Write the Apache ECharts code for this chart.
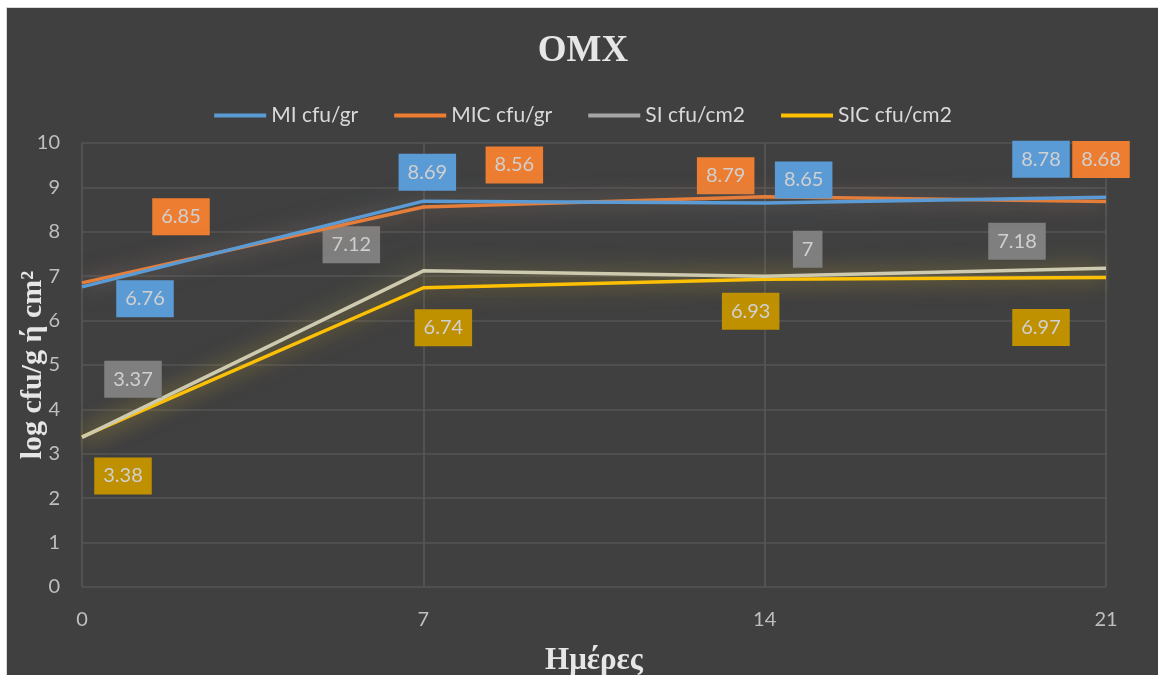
<!DOCTYPE html>
<html>
<head>
<meta charset="utf-8">
<script src="https://cdn.jsdelivr.net/npm/echarts@6/dist/echarts.min.js"></script>
<style>
  body { margin: 0; background: #ffffff; }
  #main {
    position: absolute; left: 6px; top: 7px;
    width: 1152px; height: 668px;
    background: #404040;
    border-left: 1px solid #d9d9d9; border-top: 1px solid #d9d9d9;
  }
</style>
</head>
<body>
<div id="main"></div>
<script>
// ημέρες
var days = [0, 7, 14, 21];
var seriesNames = ["MI cfu/gr", "MIC cfu/gr", "SI cfu/cm2", "SIC cfu/cm2"];
var miValues = [6.76, 8.69, 8.65, 8.78];
var micValues = [6.85, 8.56, 8.79, 8.68];
var siValues = [3.37, 7.12, 7, 7.18];
var sicValues = [3.38, 6.74, 6.93, 6.97];
var yTicks = { min: 0, max: 10, interval: 1 };

// θέσεις ετικετών (όπως τις έβαλε το Excel)
var labelOffsets = [
  [[63, 12], [4, -29], [39, -23], [-65, -38]],
  [[99, -66], [91, -42], [-39, -21], [-5, -42]],
  [[51, -58], [-72, -26], [43, -27], [-89, -27]],
  [[41, 39], [20, 40], [-14, 32], [-65, 50]]
];
var lineColors = ["#5b9bd5", "#ed7d31", "#cdcab0", "#ffc000"];
var legendColors = ["#5b9bd5", "#ed7d31", "#a5a5a5", "#ffc000"];
var boxColors = ["#5b9bd5", "#ed7d31", "#7f7f7f", "#bf9000"];
var glowColors = ["rgba(91,155,213,0.5)", "rgba(237,125,49,0.5)", "rgba(205,195,90,0.55)", "rgba(255,192,0,0.55)"];

function makeSeries(i, values) {
  return {
    name: seriesNames[i],
    type: "line",
    symbol: "circle",
    symbolSize: 0.1,
    z: 10 - i,
    itemStyle: { color: legendColors[i] },
    lineStyle: {
      color: lineColors[i],
      width: 3.5,
      shadowBlur: 22,
      shadowColor: glowColors[i]
    },
    data: values.map(function (v, k) {
      return {
        value: [days[k], v],
        label: { offset: labelOffsets[i][k] }
      };
    }),
    label: {
      show: true,
      position: "inside",
      color: "#d0d0d0",
      fontFamily: "Lato",
      fontSize: 20,
      backgroundColor: boxColors[i],
      padding: [9, 9, 8, 9],
      formatter: function (p) { return p.value[1]; }
    },
    emphasis: { disabled: true }
  };
}

var chart = echarts.init(document.getElementById("main"));
chart.setOption({
  animation: false,
  title: {
    text: "OMX",
    left: "center",
    top: 20,
    textStyle: { color: "#e6e6e6", fontFamily: "Liberation Serif", fontWeight: "bold", fontSize: 37 }
  },
  legend: {
    top: 92,
    left: "center",
    icon: "rect",
    itemWidth: 52,
    itemHeight: 4,
    itemGap: 36,
    textStyle: { color: "#d9d9d9", fontFamily: "Lato", fontSize: 21 },
    data: seriesNames
  },
  grid: { left: 75, right: 53, top: 135, bottom: 89, outerBoundsMode: "none", containLabel: false },
  xAxis: {
    type: "value",
    min: 0,
    max: 21,
    interval: 7,
    name: "Ημέρες",
    nameLocation: "middle",
    nameGap: 58,
    nameMoveOverlap: false,
    nameTextStyle: { color: "#e6e6e6", fontFamily: "Liberation Serif", fontWeight: "bold", fontSize: 31 },
    axisLine: { show: false },
    axisTick: { show: false },
    axisLabel: { color: "#bfbfbf", fontFamily: "Lato", fontSize: 20, margin: 23 },
    splitLine: { show: true, lineStyle: { color: "#595959", width: 1.5 } }
  },
  yAxis: {
    type: "value",
    min: yTicks.min,
    max: yTicks.max,
    interval: yTicks.interval,
    name: "log cfu/g ή cm²",
    nameLocation: "middle",
    nameGap: 34,
    nameMoveOverlap: false,
    nameTextStyle: { color: "#e6e6e6", fontFamily: "Liberation Serif", fontWeight: "bold", fontSize: 30 },
    axisLine: { show: false },
    axisTick: { show: false },
    axisLabel: { color: "#bfbfbf", fontFamily: "Lato", fontSize: 20, margin: 22 },
    splitLine: { lineStyle: { color: "#555555", width: 1.5 } }
  },
  series: [
    makeSeries(0, miValues),
    makeSeries(1, micValues),
    makeSeries(2, siValues),
    makeSeries(3, sicValues)
  ]
});
</script>
</body>
</html>
